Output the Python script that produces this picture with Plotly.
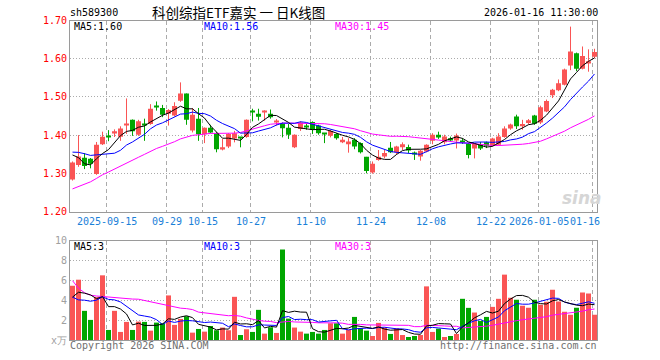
import numpy as np
import pandas as pd
import plotly.graph_objects as go

# ---------------- data ----------------
holidays = ["2025-10-01", "2025-10-02", "2025-10-03", "2025-10-06", "2025-10-07",
            "2025-10-08", "2026-01-01", "2026-01-02"]
dates = [d.strftime("%Y-%m-%d") for d in pd.bdate_range("2025-09-05", "2026-01-16")
         if d.strftime("%Y-%m-%d") not in holidays]

opens = [1.284, 1.322, 1.341, 1.338, 1.298, 1.376, 1.398, 1.406, 1.396, 1.427,
         1.440, 1.401, 1.430, 1.429, 1.476, 1.471, 1.456, 1.451, 1.490, 1.509,
         1.412, 1.443, 1.402, 1.419, 1.405, 1.363, 1.370, 1.391, 1.393, 1.395,
         1.464, 1.456, 1.461, 1.456, 1.434, 1.430, 1.419, 1.368, 1.416, 1.424,
         1.434, 1.425, 1.404, 1.398, 1.403, 1.381, 1.376, 1.388, 1.379, 1.343,
         1.302, 1.335, 1.344, 1.367, 1.355, 1.368, 1.369, 1.352, 1.344, 1.357,
         1.385, 1.401, 1.381, 1.392, 1.386, 1.384, 1.377, 1.365, 1.3745, 1.381,
         1.372, 1.3745, 1.395, 1.4175, 1.449, 1.423, 1.432, 1.451, 1.433, 1.462,
         1.504, 1.5175, 1.532, 1.5825, 1.614, 1.574, 1.589, 1.605]
highs = [1.331, 1.400, 1.353, 1.340, 1.382, 1.409, 1.413, 1.415, 1.423, 1.496,
         1.441, 1.440, 1.443, 1.481, 1.488, 1.479, 1.468, 1.486, 1.538, 1.509,
         1.471, 1.471, 1.420, 1.427, 1.408, 1.390, 1.405, 1.411, 1.395, 1.441,
         1.469, 1.469, 1.465, 1.467, 1.442, 1.433, 1.429, 1.402, 1.436, 1.432,
         1.436, 1.427, 1.405, 1.414, 1.405, 1.395, 1.392, 1.392, 1.381, 1.343,
         1.331, 1.361, 1.361, 1.382, 1.372, 1.381, 1.375, 1.357, 1.361, 1.376,
         1.405, 1.409, 1.401, 1.396, 1.404, 1.392, 1.379, 1.379, 1.382, 1.383,
         1.393, 1.405, 1.423, 1.430, 1.4535, 1.440, 1.442, 1.453, 1.477, 1.493,
         1.521, 1.5456, 1.574, 1.684, 1.616, 1.632, 1.6245, 1.626]
lows = [1.281, 1.317, 1.311, 1.313, 1.296, 1.374, 1.384, 1.395, 1.385, 1.403,
        1.398, 1.398, 1.385, 1.427, 1.464, 1.447, 1.425, 1.449, 1.487, 1.427,
        1.407, 1.385, 1.379, 1.405, 1.355, 1.360, 1.366, 1.381, 1.368, 1.393,
        1.436, 1.438, 1.438, 1.443, 1.425, 1.394, 1.390, 1.366, 1.411, 1.414,
        1.403, 1.401, 1.379, 1.394, 1.388, 1.379, 1.354, 1.363, 1.352, 1.300,
        1.299, 1.333, 1.339, 1.353, 1.349, 1.361, 1.353, 1.335, 1.333, 1.355,
        1.376, 1.390, 1.376, 1.383, 1.365, 1.377, 1.339, 1.339, 1.361, 1.366,
        1.370, 1.373, 1.393, 1.414, 1.416, 1.414, 1.428, 1.427, 1.429, 1.460,
        1.497, 1.515, 1.530, 1.570, 1.5675, 1.572, 1.566, 1.601]
closes = [1.328, 1.344, 1.319, 1.325, 1.375, 1.396, 1.395, 1.410, 1.417, 1.430,
          1.410, 1.436, 1.427, 1.469, 1.474, 1.453, 1.466, 1.476, 1.509, 1.440,
          1.453, 1.402, 1.419, 1.407, 1.363, 1.368, 1.403, 1.405, 1.392, 1.440,
          1.461, 1.448, 1.463, 1.447, 1.437, 1.418, 1.401, 1.401, 1.433, 1.422,
          1.414, 1.405, 1.402, 1.411, 1.392, 1.388, 1.383, 1.370, 1.355, 1.306,
          1.325, 1.343, 1.353, 1.355, 1.370, 1.376, 1.360, 1.350, 1.359, 1.375,
          1.401, 1.394, 1.3965, 1.386, 1.399, 1.381, 1.348, 1.377, 1.365, 1.372,
          1.391, 1.3965, 1.4175, 1.428, 1.423, 1.429, 1.439, 1.430, 1.473, 1.4895,
          1.519, 1.536, 1.572, 1.619, 1.574, 1.607, 1.593, 1.6175]
volumes = [5.45, 6.06, 2.93, 2.02, 4.31, 6.50, 1.01, 2.93, 0.81, 1.82,
           1.01, 1.85, 1.82, 0.94, 1.75, 1.68, 4.48, 1.52, 2.12, 2.39,
           0.74, 1.11, 0.84, 1.41, 0.98, 1.25, 0.98, 4.34, 0.50, 1.08,
           0.81, 3.03, 0.64, 1.28, 0.71, 9.09, 2.15, 1.25, 0.84, 0.64,
           0.81, 0.64, 1.01, 1.68, 1.68, 0.64, 1.01, 2.32, 1.18, 0.94,
           0.40, 1.72, 1.25, 0.61, 1.18, 0.50, 0.30, 0.40, 0.50, 5.39,
           0.81, 1.14, 0.30, 0.40, 0.61, 4.14, 3.23, 2.76, 1.92, 2.32,
           3.33, 4.14, 6.57, 4.24, 4.04, 3.43, 3.23, 4.04, 3.54, 3.84,
           5.05, 3.87, 2.83, 2.53, 3.23, 4.78, 4.68, 2.53]

# sessions before the visible window (only feed the moving averages)
prior_closes = [1.170, 1.163, 1.100, 1.106, 1.110, 1.180, 1.190, 1.192, 1.170, 1.190,
                1.200, 1.200, 1.212, 1.270, 1.285, 1.298, 1.280, 1.285, 1.290, 1.330,
                1.350, 1.354, 1.370, 1.360, 1.380, 1.379, 1.399, 1.340, 1.294]
prior_volumes = [28.9, 16.4, 9.5, 6.7, 8.0, 3.8, 3.5, 3.5, 2.3, 2.2,
                 2.3, 5.6, 5.5, 5.4, 6.3, 6.2, 6.1, 6.2, 3.8, 3.6,
                 8.8, 3.2, 3.1, 3.2, 3.2, 3.6, 3.4, 2.9, 6.2]

tick_dates = ["2025-09-15", "2025-09-29", "2025-10-15", "2025-10-27", "2025-11-10",
              "2025-11-24", "2025-12-08", "2025-12-22", "2026-01-05", "2026-01-16"]
tick_labels = ["2025-09-15", "09-29", "10-15", "10-27", "11-10",
               "11-24", "12-08", "12-22", "2026-01-05", "01-16"]
price_ticks = [1.20, 1.30, 1.40, 1.50, 1.60, 1.70]
vol_ticks = [0, 2, 4, 6, 8, 10]
vol_tick_labels = ["x万", "2", "4", "6", "8", "10"]

code = "sh589300"
title = "科创综指ETF嘉实 一 日K线图"
stamp = "2026-01-16 11:30:00"
price_ma_labels = ["MA5:1.60", "MA10:1.56", "MA30:1.45"]
vol_ma_labels = ["MA5:3", "MA10:3", "MA30:3"]

# ---------------- helpers ----------------
W, H = 660, 360
MONO = "DejaVu Sans Mono"
RED = "#fa5555"
GREEN = "#00a600"
MA_COLORS = ["#000000", "#0000ff", "#ff00ff"]
GRID = "#ababab"
BORDER = "#9a9a9a"

n = len(closes)
x = np.arange(n)
up = [c >= o for o, c in zip(opens, closes)]


def moving(prior, vals, k):
    full = np.array(list(prior) + list(vals), dtype=float)
    off = len(prior)
    return [full[off + i - k + 1: off + i + 1].mean() for i in range(len(vals))]


SLOT = 6.0                       # px per session
X0_PX = 70.0                     # left border of plot area
RIGHT_PX = X0_PX + SLOT * 87.9
xr = [-2.5 / SLOT, (RIGHT_PX - X0_PX - 2.5) / SLOT]
xdom = [X0_PX / W, RIGHT_PX / W]
price_dom = [1 - 211.5 / H, 1 - 20.5 / H]
vol_dom = [1 - 340.0 / H, 1 - 240.5 / H]

tick_idx = [dates.index(d) for d in tick_dates]
grid_x = [i - 2.0 / SLOT for i in tick_idx]

fig = go.Figure()

# ---- candles: bodies ----
body_base = [min(o, c) for o, c in zip(opens, closes)]
body_h = [max(abs(c - o), 0.0026) for o, c in zip(opens, closes)]
colors = [RED if u else GREEN for u in up]
fig.add_trace(go.Bar(x=x, y=body_h, base=body_base, width=5 / SLOT,
                     marker=dict(color=colors, line=dict(width=0)),
                     xaxis="x", yaxis="y", hoverinfo="skip"))

# ---- candles: wicks ----
for flag, col in ((True, RED), (False, GREEN)):
    wx, wy = [], []
    for i in range(n):
        if up[i] == flag:
            wx += [i, i, None]
            wy += [lows[i], highs[i], None]
    fig.add_trace(go.Scatter(x=wx, y=wy, mode="lines", line=dict(color=col, width=1),
                             xaxis="x", yaxis="y", hoverinfo="skip"))

# ---- price moving averages ----
for k, col in zip((30, 10, 5), (MA_COLORS[2], MA_COLORS[1], MA_COLORS[0])):
    fig.add_trace(go.Scatter(x=x, y=moving(prior_closes, closes, k), mode="lines",
                             line=dict(color=col, width=1), xaxis="x", yaxis="y",
                             hoverinfo="skip"))

# ---- volume ----
fig.add_trace(go.Bar(x=x, y=volumes, width=5 / SLOT,
                     marker=dict(color=colors, line=dict(width=0)),
                     xaxis="x2", yaxis="y2", hoverinfo="skip"))
for k, col in zip((30, 10, 5), (MA_COLORS[2], MA_COLORS[1], MA_COLORS[0])):
    fig.add_trace(go.Scatter(x=x, y=moving(prior_volumes, volumes, k), mode="lines",
                             line=dict(color=col, width=1), xaxis="x2", yaxis="y2",
                             hoverinfo="skip"))

axis_common = dict(showline=True, mirror=True, linecolor=BORDER, linewidth=1,
                   zeroline=False, ticks="", fixedrange=True, automargin=False)

fig.update_layout(
    width=W, height=H, autosize=False,
    margin=dict(l=0, r=0, t=0, b=0, pad=0, autoexpand=False),
    paper_bgcolor="white", plot_bgcolor="white",
    showlegend=False, barmode="overlay",
    xaxis=dict(domain=xdom, range=xr, anchor="y", tickmode="array", tickvals=grid_x,
               showticklabels=False, showgrid=True, gridcolor=GRID, gridwidth=1,
               griddash="4px,3px", **axis_common),
    yaxis=dict(domain=price_dom, range=[1.2, 1.7], anchor="x", tickmode="array",
               tickvals=price_ticks, ticktext=[f"{v:.2f}" for v in price_ticks],
               tickfont=dict(family=MONO, size=10, color="#ff0000"),
               showgrid=True, gridcolor=GRID, griddash="1px,2px", **axis_common),
    xaxis2=dict(domain=xdom, range=xr, anchor="y2", tickmode="array", tickvals=grid_x,
                showticklabels=False, showgrid=True, gridcolor=GRID, gridwidth=1,
                griddash="4px,3px", **axis_common),
    yaxis2=dict(domain=vol_dom, range=[0, 10], anchor="x2", tickmode="array",
                tickvals=vol_ticks, ticktext=vol_tick_labels,
                tickfont=dict(family=MONO, size=10, color="#a0a0a0"),
                showgrid=True, gridcolor=GRID, griddash="1px,2px", **axis_common),
)

annotations = []


def ann(text, px, py, color="#000000", size=10, anchor="left", family=MONO, **kw):
    annotations.append(dict(text=text, x=px / W, y=1 - py / H, xref="paper", yref="paper",
                            xanchor=anchor, yanchor="middle", showarrow=False,
                            borderpad=0, font=dict(family=family, size=size, color=color),
                            **kw))


ann(code, 69, 12.5)
ann(title, 238, 11.5, anchor="center", family="Noto Sans CJK SC", size=13.5)
ann(stamp, 599, 12.5, anchor="right")
for lab, px, col in zip(price_ma_labels, (73, 203, 334), MA_COLORS):
    ann(lab, px, 27, col)
for lab, px, col in zip(vol_ma_labels, (73, 203, 334), MA_COLORS):
    ann(lab, px, 246, col)
ann("Copyright 2026 SINA.COM", 69, 345.5, color="#707070")
ann("http://finance.sina.com.cn", 598, 345.5, color="#707070", anchor="right")
annotations.append(dict(text="<b><i>sina</i></b>", x=582 / W, y=1 - 198 / H, xref="paper",
                        yref="paper", xanchor="center", yanchor="middle", showarrow=False,
                        font=dict(family="DejaVu Sans", size=17, color="#d6d6d6")))

# date labels on the time axis (a label that would leave the frame is pulled inside,
# right after its neighbour)
prev_right = None
for gx, lab in zip(grid_x, tick_labels):
    half = len(lab) * 3.0 / SLOT
    if gx + half > xr[1] + 0.3:
        left = prev_right + 0.1
        annotations.append(dict(text=lab, x=left, y=1 - 221.5 / H, xref="x",
                                yref="paper", xanchor="left", yanchor="middle",
                                showarrow=False, borderpad=0,
                                font=dict(family=MONO, size=10, color="#1a80d8")))
    else:
        annotations.append(dict(text=lab, x=gx, y=1 - 221.5 / H, xref="x", yref="paper",
                                xanchor="center", yanchor="middle", showarrow=False,
                                borderpad=0,
                                font=dict(family=MONO, size=10, color="#1a80d8")))
        prev_right = gx + half

fig.update_layout(annotations=annotations)

fig.write_html("out.html", config={"displayModeBar": False},
               post_script="document.body.style.margin='0';document.body.style.padding='0';")
